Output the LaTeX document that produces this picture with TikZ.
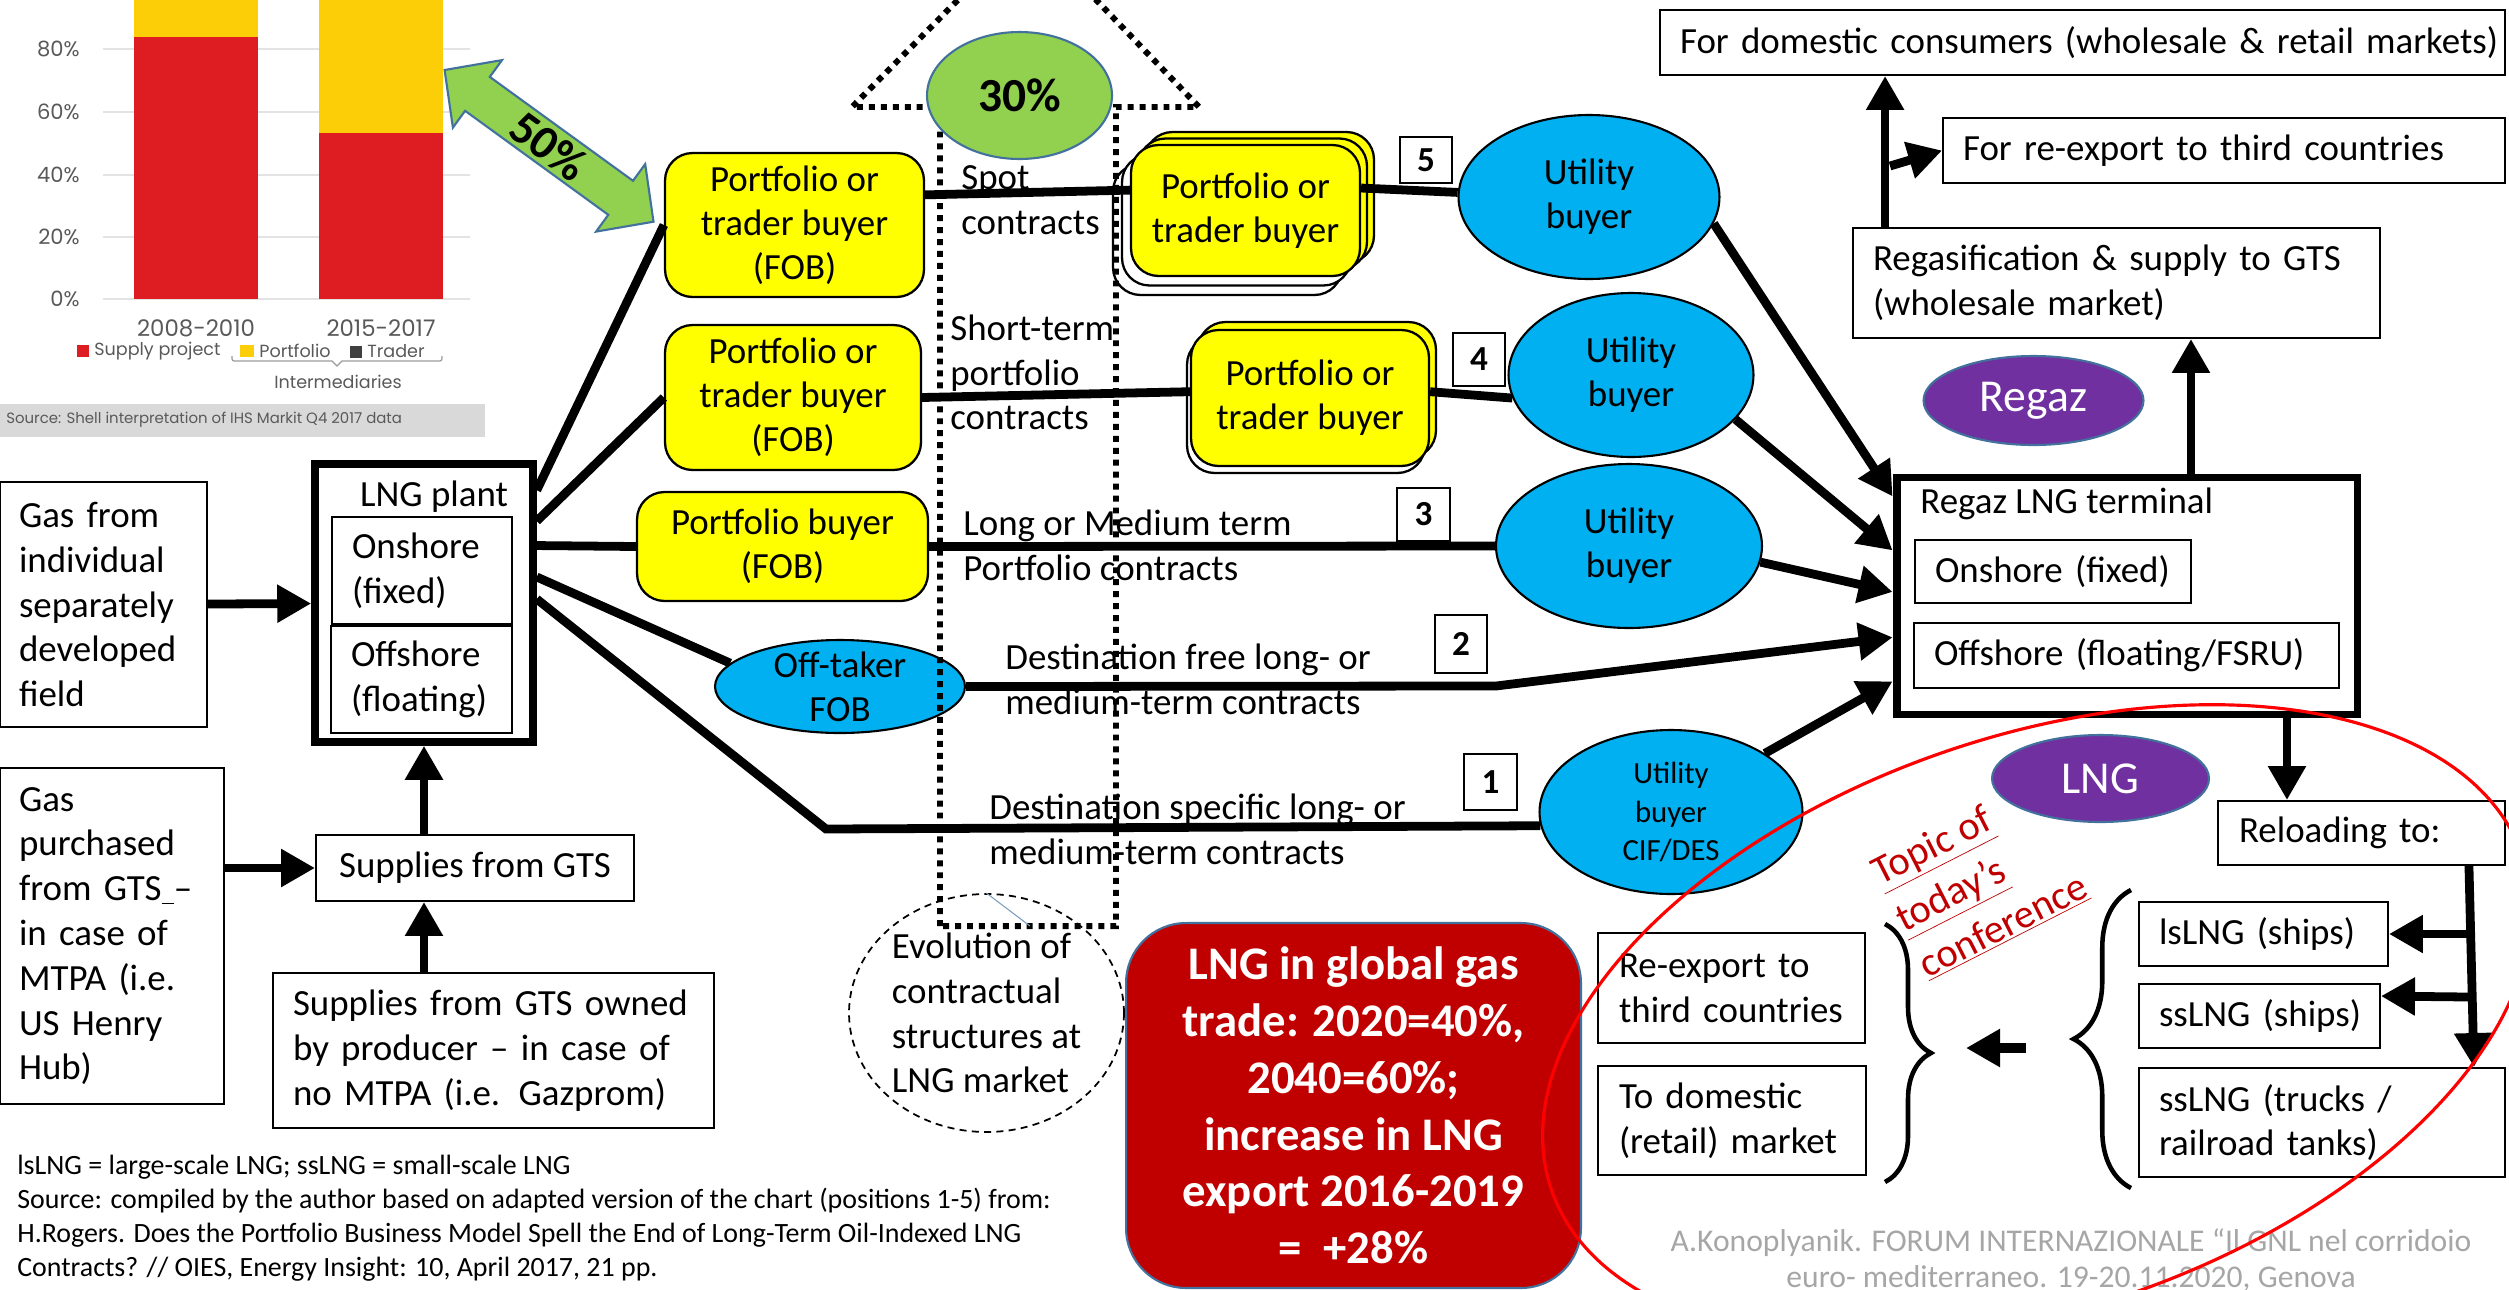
\documentclass[tikz,border=0pt]{standalone}
\usepackage{fontspec}
\setmainfont{Carlito}
\newfontfamily\chartfont{Poppins}
\usetikzlibrary{arrows.meta, positioning, shapes.geometric, decorations.pathreplacing}

\definecolor{pyellow}{HTML}{FFFF00}
\definecolor{ublue}{HTML}{00B0F0}
\definecolor{epurple}{HTML}{7030A0}
\definecolor{eborder}{HTML}{41719C}
\definecolor{egreen}{HTML}{92D050}
\definecolor{lred}{HTML}{C00000}
\definecolor{ellred}{HTML}{FF0000}
\definecolor{footgray}{HTML}{A6A6A6}
\definecolor{shred}{HTML}{DD1D21}
\definecolor{shyellow}{HTML}{FBCE07}
\definecolor{shdark}{HTML}{404040}
\definecolor{shgray}{HTML}{595959}
\definecolor{chgrid}{HTML}{E3E3E3}
\definecolor{srcbar}{HTML}{D9D9D9}

\begin{document}
\begin{tikzpicture}[
    x=0.02cm, y=-0.02cm,
    txt/.style = {inner sep=0pt, align=left, font=\fontsize{21}{25.5}\selectfont},
    plainbox/.style = {draw, line width=1.1pt, inner xsep=0.4cm, inner ysep=0.1cm,
                align=left, font=\fontsize{21}{25.5}\selectfont},
    pbox/.style = {draw, line width=1.3pt, rounded corners=0.55cm, fill=pyellow,
                align=center, font=\fontsize{21}{25}\selectfont},
    ubuy/.style = {shape=ellipse, draw, line width=1.2pt, fill=ublue, inner sep=0pt,
                align=center, font=\fontsize{21}{25}\selectfont},
    purpletag/.style = {shape=ellipse, draw=eborder, line width=1.2pt, fill=epurple,
                text=white, inner sep=0pt, font=\fontsize{26}{30}\selectfont},
    num/.style = {draw, fill=white, line width=1.2pt, inner sep=0pt,
                minimum width=1.05cm, minimum height=1.05cm,
                font=\bfseries\fontsize{20}{24}\selectfont},
    link/.style = {line width=5pt},
    feed/.style = {line width=5pt, -{Triangle[length=0.68cm, width=0.72cm]}},
    dots/.style = {line width=3.4pt, dash pattern=on 3.4pt off 3.4pt},
    curly/.style = {line width=2.6pt, decorate},
    chlabel/.style = {inner sep=0pt, text=shgray, font=\chartfont\fontsize{12}{14}\selectfont},
    chlegend/.style = {inner sep=0pt, text=shgray, font=\chartfont\fontsize{10}{12}\selectfont}
                    ]
\useasboundingbox (0,0) rectangle (2509,1289);
\clip (0,0) rectangle (2509,1289);

% chart (Shell / IHS Markit)
\foreach \gy/\gl in {49/80, 112/60, 175/40, 237/20, 299/0} {
  \draw[chgrid, line width=0.8pt] (103,\gy) -- (470,\gy);
  \node[chlabel, anchor=east] at (80,\gy) {\gl\%};
}
\fill[shyellow] (134,0) rectangle (258,37);
\fill[shred] (134,37) rectangle (258,299);
\fill[shyellow] (319,0) rectangle (443,133);
\fill[shred] (319,133) rectangle (443,299);
\node[chlabel, font=\chartfont\fontsize{13}{15}\selectfont] at (196,328) {2008-2010};
\node[chlabel, font=\chartfont\fontsize{13}{15}\selectfont] at (381,328) {2015-2017};
\fill[shred] (77,345) rectangle (89,357);
\node[chlegend, anchor=west] at (94,351) {Supply project};
\fill[shyellow] (240,345) rectangle (254,357);
\node[chlegend, anchor=west] at (259,351) {Portfolio};
\fill[shdark] (350,346) rectangle (362,358);
\node[chlegend, anchor=west] at (367,351) {Trader};
\draw[shgray!60, line width=0.7pt] (232,356) .. controls (232,361) .. (237,361) -- (332,361)
    -- (337,366) -- (342,361) -- (437,361) .. controls (442,361) .. (442,356);
\node[chlegend] at (338,382) {Intermediaries};
\fill[srcbar] (0,404) rectangle (485,437);
\node[chlegend, anchor=west, font=\chartfont\fontsize{8.5}{10}\selectfont] at (6,420)
    {Source: Shell interpretation of IHS Markit Q4 2017 data};

% 50% double arrow
\draw[draw=eborder, fill=egreen, line width=1.2pt] (444.6,70) -- (452.9,127.6) -- (465.1,110.8)
    -- (608.3,214.8) -- (596.1,231.6) -- (653.5,221.7) -- (645.2,164.1) -- (633.0,180.8)
    -- (489.8,76.9) -- (502.0,60.1) -- cycle;
\node (pct50) [rotate=-36, inner sep=0pt, font=\bfseries\fontsize{27}{30}\selectfont] at (549,146) {50\%};

% supply side
\node (gasfield) [plainbox, text width=3.38cm, inner xsep=0.38cm, minimum height=4.9cm]
    at (103.5,604.5) {Gas from\\ individual\\ separately\\ developed\\ field};
\node (gasgts) [plainbox, text width=3.72cm, inner xsep=0.38cm, minimum height=6.72cm]
    at (112,936) {Gas\\ purchased\\ from GTS\underline{\ }–\\ in case of\\ MTPA (i.e.\\ US Henry\\ Hub)};
\node (plant) [draw, line width=4.3pt, minimum width=4.36cm, minimum height=5.56cm] at (424,603) {};
\node (plantlbl) [txt] at (434,497) {LNG plant};
\node (onshore) [plainbox, text width=2.8cm, minimum height=2.14cm] at (422,570.5) {Onshore\\ (fixed)};
\node (offshore) [plainbox, text width=2.82cm, minimum height=2.14cm] at (421.5,679.5) {Offshore\\ (floating)};
\node (gts) [plainbox, align=center, minimum width=6.36cm, minimum height=1.32cm] at (475,868) {Supplies from GTS};
\node (gtsown) [plainbox, text width=8.02cm, minimum height=3.1cm] at (493.5,1050.5)
    {Supplies from GTS owned\\ by producer – in case of\\ no MTPA (i.e. Gazprom)};

\draw[feed] (gasfield) -- (plant);
\draw[feed] (gasgts.east |- gts.west) -- (gts.west);
\draw[feed] (plant.south |- gts.north) -- (plant.south);
\draw[feed] (plant.south |- gtsown.north) -- (plant.south |- gts.south);

% buyers
\node (fob1) [pbox, minimum width=5.18cm, minimum height=2.88cm] at (794.5,225) {Portfolio or\\ trader buyer\\ (FOB)};
\node (fob2) [pbox, minimum width=5.12cm, minimum height=2.9cm] at (793,397.5) {Portfolio or\\ trader buyer\\ (FOB)};
\node (fob3) [pbox, minimum width=5.82cm, minimum height=2.18cm] at (782.5,546.5) {Portfolio buyer\\ (FOB)};
\node (offtaker) [ubuy, minimum width=5cm, minimum height=1.86cm, inner sep=-0.4cm] at (840,686.5) {Off-taker\\ FOB};

% stacked resellers
\node [pbox, fill=white, minimum width=4.58cm, minimum height=2.62cm] at (1227.5,229.5) {};
\node [pbox, fill=white, minimum width=4.58cm, minimum height=2.62cm] at (1236.5,220) {};
\node [pbox, minimum width=4.58cm, minimum height=2.62cm] at (1259.5,197.5) {};
\node [pbox, minimum width=4.58cm, minimum height=2.62cm] at (1252.5,204) {};
\node (stack5) [pbox, minimum width=4.58cm, minimum height=2.62cm] at (1245.5,210.5) {Portfolio or\\ trader buyer};
\node [pbox, fill=white, minimum width=4.76cm, minimum height=2.72cm] at (1306,405) {};
\node [pbox, minimum width=4.76cm, minimum height=2.72cm] at (1317,390) {};
\node (stack4) [pbox, minimum width=4.76cm, minimum height=2.72cm] at (1310,398) {Portfolio or\\ trader buyer};

\node (util5) [ubuy, minimum width=5.22cm, minimum height=3.28cm] at (1589,197) {Utility\\ buyer};
\node (util4) [ubuy, minimum width=4.9cm, minimum height=3.28cm] at (1631,375) {Utility\\ buyer};
\node (util3) [ubuy, minimum width=5.32cm, minimum height=3.28cm] at (1629,546) {Utility\\ buyer};
\node (util1) [ubuy, minimum width=5.26cm, minimum height=3.28cm, font=\fontsize{17.5}{22}\selectfont]
    at (1671,812) {Utility\\ buyer\\ CIF/DES};

\node (n5) [num, minimum height=0.92cm] at (1426,160) {5};
\node (n4) [num] at (1479,359.5) {4};
\node (n3) [num] at (1423.5,514.5) {3};
\node (n2) [num, minimum height=1.15cm] at (1461,644) {2};
\node (n1) [num, minimum height=1.12cm] at (1490.5,782) {1};

\node (spot) [txt, anchor=west] at (961,200.5) {Spot\\ contracts};
\node (shortterm) [txt, anchor=west] at (950,372.5) {Short-term\\ portfolio\\ contracts};
\node (longterm) [txt, anchor=west] at (963,545.5) {Long or Medium term\\ Portfolio contracts};
\node (destfree) [txt, anchor=west] at (1005,679.5) {Destination free long- or\\ medium-term contracts};
\node (destspec) [txt, anchor=west] at (989,829) {Destination specific long- or\\ medium-term contracts};

% evolution arrow
\draw[dots] (940,926) -- (940,107) -- (852,107) -- (1028,-71) -- (1199,107) -- (1116,107) -- (1116,926) -- cycle;
\node (share30) [shape=ellipse, draw=eborder, fill=egreen, line width=1.2pt, inner sep=0pt,
    minimum width=3.7cm, minimum height=2.54cm, font=\bfseries\fontsize{27}{30}\selectfont]
    at (1019.5,95.5) {30\%};

\coordinate (bend1) at (826,829);
\coordinate (bend2) at (1496,686);
\draw[link] (plant.45) -- (fob1.west);
\draw[link] (plant.36) -- (fob2.west);
\draw[link] (plant.27) -- (fob3.west);
\draw[link] (plant.13) -- (offtaker.168);
\draw[link] (plant.2) -- (bend1) -- (util1.186);
\draw[link] (fob1.13) -- (stack5.170);
\draw[link] (stack5.11) -- (util5.178);
\draw[link] (fob2.east) -- (stack4.177);
\draw[link] (stack4.3) -- (util4.191);
\draw[link] (fob3.east) -- (util3.west);

% receiving terminal
\node (term) [draw, line width=4.5pt, minimum width=9.22cm, minimum height=4.74cm] at (2127,596) {};
\node (termlbl) [txt, anchor=west] at (1920,504) {Regaz LNG terminal};
\node (tonshore) [plainbox, text width=4.72cm, minimum height=1.26cm] at (2053,571.5) {\mbox{Onshore (fixed)}};
\node (toffshore) [plainbox, text width=7.7cm, minimum height=1.3cm] at (2126.5,655.5) {\mbox{Offshore (floating/FSRU)}};

\draw[feed] (util5.348) -- (term.157);
\draw[feed] (util4.337) -- (term.169);
\draw[feed] (util3.353) -- (term.179);
\draw[feed] (offtaker.east) -- (bend2) -- (term.190);
\draw[feed] (util1.32) -- (term.200);

\node (regaz) [purpletag, minimum width=4.4cm, minimum height=1.78cm] at (2033.5,400.5) {Regaz};
\node (lngtag) [purpletag, minimum width=4.34cm, minimum height=1.74cm] at (2100.5,778.5) {LNG};
\node (regas) [plainbox, text width=9.74cm, minimum height=2.2cm] at (2116.5,283)
    {\mbox{Regasification \& supply to GTS}\\ (wholesale market)};
\node (dom) [plainbox, text width=16.1cm, inner xsep=0.4cm, minimum height=1.3cm] at (2082.5,42.5)
    {\mbox{For domestic consumers (wholesale \& retail markets)}};
\node (thirdc) [plainbox, text width=10.44cm, minimum height=1.3cm] at (2224,150.5)
    {\mbox{For re-export to third countries}};

\coordinate (stem) at ([xshift=0.66cm]regas.north west);
\coordinate (fork) at (1890,166);
\coordinate (rise) at ([xshift=1.28cm]term.north);
\coordinate (drop) at ([xshift=3.2cm]term.south);
\draw[feed] (stem) -- (stem |- dom.south);
\draw[feed] (fork) -- (thirdc.west);
\draw[feed] (rise) -- (rise |- regas.south);

% reloading
\node (reload) [plainbox, text width=4.9cm, inner xsep=0.42cm, minimum height=1.28cm] at (2361.5,833) {\mbox{Reloading to:}};
\node (lsship) [plainbox, text width=4.18cm, minimum height=1.28cm] at (2263.5,934) {\mbox{lsLNG (ships)}};
\node (ssship) [plainbox, text width=4.02cm, minimum height=1.28cm] at (2259.5,1016) {\mbox{ssLNG (ships)}};
\node (sstruck) [plainbox, text width=6.52cm, minimum height=2.18cm] at (2322,1122.5) {ssLNG (trucks /\\ railroad tanks)};
\node (rexport) [plainbox, text width=4.5cm, inner xsep=0.42cm, minimum height=2.2cm] at (1731.5,988) {Re-export to\\ \mbox{third countries}};
\node (domret) [plainbox, text width=4.52cm, inner xsep=0.42cm, minimum height=2.18cm] at (1732,1120.5) {To domestic\\ \mbox{(retail) market}};

\coordinate (j1) at (2467,934);
\coordinate (j2) at (2468,997);
\coordinate (gap) at (2026,1048);
\draw[feed] (drop) -- (drop |- reload.north);
\draw[feed] ([xshift=-0.74cm]reload.south east) -- ([xshift=-0.64cm]sstruck.north east);
\draw[feed] (j1) -- (lsship.east);
\draw[feed] (j2) -- ([yshift=-0.26cm]ssship.north east);
\draw[curly, decoration={brace, amplitude=1.15cm}] (2131,1188) -- (2131,890);
\draw[curly, decoration={brace, amplitude=0.92cm}] (1885,924) -- (1885,1182);
\draw[feed, line width=6pt] (gap) -- ++(-60,0);

% notes
\node (evo) [shape=ellipse, draw, dash pattern=on 4pt off 3pt, line width=1pt, inner sep=-0.25cm,
    minimum width=5.5cm, minimum height=4.76cm, align=left, font=\fontsize{21}{25.5}\selectfont]
    at (986.5,1013) {Evolution of\\ contractual\\ structures at\\ LNG market};
\coordinate (stray) at (1030,926);
\draw[eborder!70, line width=0.6pt] (evo.north) -- (stray);

\node (share) [draw=eborder, fill=lred, line width=1.2pt, rounded corners=1.2cm,
    minimum width=9.1cm, minimum height=7.3cm, text=white, align=center,
    font=\bfseries\fontsize{26.6}{32.3}\selectfont] at (1353.5,1105.5)
    {LNG in global gas\\ trade: 2020=40\%,\\ 2040=60\%;\\ increase in LNG\\ export 2016-2019\\ =\ \ +28\%};

\node (note) [txt, anchor=west, font=\fontsize{15.9}{19.3}\selectfont] at (17,1218)
    {lsLNG = large-scale LNG; ssLNG = small-scale LNG\\
     Source: compiled by the author based on adapted version of the chart (positions 1-5) from:\\
     H.Rogers. Does the Portfolio Business Model Spell the End of Long-Term Oil-Indexed LNG\\
     Contracts? // OIES, Energy Insight: 10, April 2017, 21 pp.};

\node (credit) [inner sep=0pt, align=center, text=footgray, font=\fontsize{18}{20.4}\selectfont] at (2071,1260)
    {A.Konoplyanik. FORUM INTERNAZIONALE “Il GNL nel corridoio\\ euro- mediterraneo. 19-20.11.2020, Genova};

\node (topic) [rotate=27, inner sep=0pt, align=left, text=lred, font=\fontsize{23}{29.5}\selectfont]
    at (1980,880) {\underline{Topic of}\\ \underline{today’s}\\ \underline{conference}};

\draw[ellred, line width=1.8pt, rotate around={19:(2037,1023)}] (2037,1023) ellipse [x radius=10.27cm, y radius=5.73cm];

\end{tikzpicture}
\end{document}
